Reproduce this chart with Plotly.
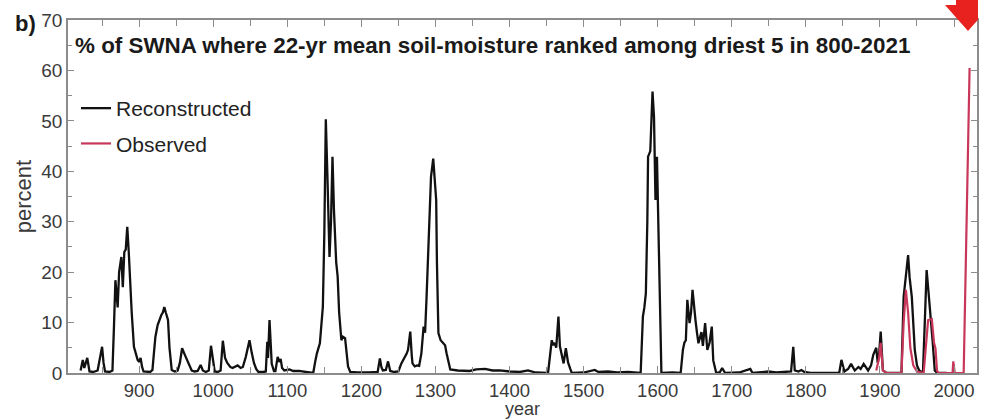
import plotly.graph_objects as go

# ---- data ----
recon_years = [821, 824, 826, 828, 830, 833, 838, 844, 847, 850, 852, 854, 860, 864, 866, 868, 870, 871, 873, 876,
               878, 880, 882, 884, 886, 888, 890, 893, 896, 898, 900, 902, 904, 906, 915, 918, 920, 922, 925, 927,
               930, 932, 934, 936, 939, 941, 944, 948, 952, 955, 958, 962, 965, 968, 971, 975, 979, 983, 986, 990,
               994, 997, 999, 1002, 1006, 1010, 1013, 1016, 1019, 1023, 1026, 1030, 1033, 1037, 1040, 1044, 1047, 1049, 1052, 1055,
               1058, 1061, 1068, 1071, 1073, 1074, 1076, 1078, 1079, 1082, 1084, 1087, 1089, 1091, 1093, 1096, 1100, 1103, 1108, 1116,
               1125, 1135, 1138, 1140, 1144, 1146, 1148, 1150, 1152, 1154, 1155, 1157, 1159, 1161, 1163, 1165, 1166, 1168, 1170, 1173,
               1175, 1178, 1180, 1182, 1185, 1195, 1210, 1222, 1225, 1227, 1229, 1233, 1236, 1239, 1244, 1250, 1254, 1257, 1259, 1261,
               1263, 1266, 1268, 1269, 1272, 1275, 1278, 1281, 1284, 1286, 1288, 1290, 1292, 1294, 1297, 1299, 1301, 1302, 1304, 1307,
               1311, 1313, 1315, 1318, 1320, 1330, 1346, 1355, 1367, 1377, 1387, 1400, 1414, 1425, 1435, 1452, 1455, 1457, 1459, 1461,
               1463, 1466, 1468, 1470, 1473, 1476, 1479, 1482, 1484, 1500, 1515, 1520, 1533, 1545, 1560, 1577, 1580, 1582, 1584, 1586,
               1587, 1590, 1593, 1595, 1597, 1599, 1602, 1605, 1620, 1631, 1634, 1636, 1638, 1640, 1643, 1645, 1647, 1649, 1651, 1653,
               1655, 1659, 1661, 1664, 1667, 1670, 1673, 1675, 1679, 1684, 1687, 1691, 1710, 1725, 1728, 1749, 1760, 1780, 1783, 1785,
               1790, 1794, 1798, 1806, 1845, 1848, 1852, 1857, 1861, 1866, 1871, 1874, 1878, 1884, 1888, 1891, 1895, 1897, 1899, 1901,
               1904, 1909, 1929, 1932, 1935, 1938, 1940, 1943, 1947, 1950, 1953, 1958, 1961, 1963, 1965, 1967, 1969, 1971, 1974, 1977,
               1990]
recon_vals = [0.5, 2.6, 1.0, 2.0, 3.0, 0.3, 0.2, 0.5, 3.0, 5.2, 2.0, 0.3, 0.2, 0.5, 9.0, 18.4, 15.0, 13.0, 20.0, 23.0,
              17.0, 24.0, 24.5, 29.0, 24.0, 17.0, 12.0, 5.2, 3.8, 2.6, 2.2, 3.0, 1.2, 0.3, 0.2, 0.6, 4.0, 7.2, 9.5, 10.5,
              11.5, 12.0, 13.1, 12.0, 10.5, 5.0, 0.6, 0.3, 0.5, 2.0, 4.9, 3.5, 2.5, 1.2, 0.5, 0.3, 0.4, 1.6, 0.5, 0.2,
              0.5, 5.4, 3.0, 0.3, 0.2, 0.5, 6.4, 3.0, 2.0, 1.2, 1.0, 1.2, 1.5, 1.0, 1.2, 3.2, 5.0, 6.5, 4.0, 2.0,
              0.8, 0.2, 0.2, 0.3, 6.2, 3.0, 10.5, 4.0, 1.8, 0.4, 0.4, 3.2, 2.2, 2.8, 1.0, 0.5, 0.7, 0.7, 0.4, 0.4,
              0.2, 0.0, 2.5, 3.9, 5.9, 9.0, 13.1, 27.7, 50.3, 40.0, 34.3, 23.0, 30.0, 42.9, 32.3, 24.0, 22.0, 19.1, 12.0, 6.5,
              7.2, 6.9, 3.5, 1.3, 0.2, 0.1, 0.1, 0.2, 2.9, 1.2, 0.5, 0.6, 2.3, 0.4, 0.2, 0.3, 1.9, 2.6, 3.3, 3.8,
              4.6, 8.2, 3.5, 1.9, 1.3, 1.5, 1.4, 3.9, 9.2, 8.0, 15.0, 24.4, 33.0, 38.9, 42.5, 39.0, 34.3, 22.0, 7.9, 6.5,
              5.9, 5.5, 3.9, 1.5, 0.7, 0.5, 0.4, 0.7, 0.8, 0.5, 0.5, 0.3, 0.2, 0.5, 0.1, 0.0, 4.0, 6.5, 5.5, 6.0,
              5.0, 11.2, 5.3, 4.0, 1.9, 4.9, 2.1, 0.8, 0.0, 0.1, 0.6, 0.2, 0.3, 0.1, 0.2, 0.0, 11.2, 13.0, 15.8, 30.0,
              42.9, 44.0, 55.8, 50.8, 34.3, 42.9, 22.4, 0.0, 0.1, 0.0, 4.6, 6.0, 6.5, 14.5, 9.9, 12.0, 16.5, 13.0, 10.5, 8.0,
              5.9, 8.1, 5.4, 9.9, 4.6, 6.0, 9.2, 2.5, 0.0, 0.2, 1.0, 0.0, 0.1, 0.8, 0.0, 0.3, 0.1, 0.3, 5.2, 0.5,
              0.3, 0.6, 0.2, 0.0, 0.0, 2.6, 0.3, 0.8, 1.8, 0.5, 1.2, 0.8, 1.8, 0.5, 1.5, 3.6, 5.0, 2.0, 4.0, 8.2,
              0.5, 0.0, 0.0, 15.1, 20.0, 23.4, 19.0, 15.1, 4.6, 1.5, 0.5, 0.0, 12.0, 20.4, 17.0, 14.1, 10.0, 6.5, 0.5, 0.0,
              0.0]

obs_years = [1895, 1899, 1901, 1904, 1909, 1929, 1932, 1935, 1938, 1941, 1945, 1950, 1959, 1962, 1965, 1970, 1973,
             1975, 1977, 1979, 1998, 1999, 2001, 2013, 2021]
obs_vals = [0.5, 3.0, 6.0, 0.5, 0.0, 0.0, 10.0, 16.5, 12.0, 5.0, 1.5, 0.3, 0.0, 5.0, 10.5, 10.7, 6.0,
            4.8, 0.5, 0.0, 0.0, 2.3, 0.0, 0.0, 60.5]

x_ticks = [900, 1000, 1100, 1200, 1300, 1400, 1500, 1600, 1700, 1800, 1900, 2000]
y_ticks = [0, 10, 20, 30, 40, 50, 60, 70]

title_text = "% of SWNA where 22-yr mean soil-moisture ranked among driest 5 in 800-2021"

FONT = "Liberation Sans, Arial, Helvetica, sans-serif"
AXIS_GRAY = "#8c8c8c"
LABEL_GRAY = "#3a3a3a"

fig = go.Figure()
fig.add_trace(go.Scatter(x=recon_years, y=recon_vals, mode="lines", name="Reconstructed",
                         line=dict(color="#111111", width=2.3), legendgroup="a"))
fig.add_trace(go.Scatter(x=obs_years, y=obs_vals, mode="lines", name="Observed",
                         line=dict(color="#c8375a", width=2.2), legendgroup="b"))

W, H = 988, 420
L, R, T, B = 68, 11, 20, 47
pw, ph = W - L - R, H - T - B


def px(xp):
    return (xp - L) / pw


def py(yp):
    return (H - B - yp) / ph


# red arrow (partially cropped at the top right)
pts = [(956, 0), (978, 0), (978, 19.7), (968, 31), (945, 5), (956, 5)]
path = "M " + " L ".join(f"{px(a):.5f},{py(b):.5f}" for a, b in pts) + " Z"

fig.update_layout(
    width=W, height=H,
    margin=dict(l=L, r=R, t=T, b=B, pad=0, autoexpand=False),
    paper_bgcolor="white", plot_bgcolor="white",
    font=dict(family=FONT, color="#333333"),
    showlegend=True,
    legend=dict(x=px(76), y=py(88), xanchor="left", yanchor="top",
                bgcolor="rgba(0,0,0,0)", font=dict(size=21, color="#222222", family=FONT),
                tracegroupgap=5, itemwidth=30),
    xaxis=dict(range=[804, 2031], tickvals=x_ticks, ticks="inside", ticklen=7, tickwidth=1,
               tickcolor=AXIS_GRAY, showline=True, linecolor=AXIS_GRAY, linewidth=1.5,
               mirror="allticks", showgrid=False, zeroline=False, automargin=False,
               tickfont=dict(size=18.5, color=LABEL_GRAY),
               minor=dict(dtick=50, tick0=800, ticks="inside", ticklen=6, tickcolor=AXIS_GRAY)),
    yaxis=dict(range=[0, 70], tickvals=y_ticks, ticks="inside", ticklen=6, tickwidth=1,
               tickcolor=AXIS_GRAY, showline=True, linecolor=AXIS_GRAY, linewidth=1.5,
               mirror="allticks", showgrid=False, zeroline=False, automargin=False,
               tickfont=dict(size=19, color=LABEL_GRAY),
               minor=dict(dtick=5, ticks="inside", ticklen=4, tickcolor=AXIS_GRAY),
               title=dict(text="percent", font=dict(size=22, color=LABEL_GRAY), standoff=4)),
    annotations=[
        dict(text=title_text, xref="paper", yref="paper", x=px(73), y=py(45),
             xanchor="left", yanchor="middle", showarrow=False,
             font=dict(size=22.4, color="#1a1a1a", family=FONT, weight="bold")),
        dict(text="b)", xref="paper", yref="paper", x=px(13), y=py(9),
             xanchor="left", yanchor="top", showarrow=False,
             font=dict(size=22, color="#1a1a1a", family=FONT, weight="bold")),
        dict(text="year", xref="paper", yref="paper", x=0.5, y=py(420),
             xanchor="center", yanchor="bottom", showarrow=False, borderpad=0,
             font=dict(size=18, color=LABEL_GRAY, family=FONT)),
    ],
    shapes=[dict(type="path", path=path, xref="paper", yref="paper",
                 fillcolor="#e8231f", line=dict(width=0), layer="above")],
)

fig.write_html("out.html", config={"displayModeBar": False},
               post_script="document.body.style.margin='0';document.body.style.overflow='hidden';")
